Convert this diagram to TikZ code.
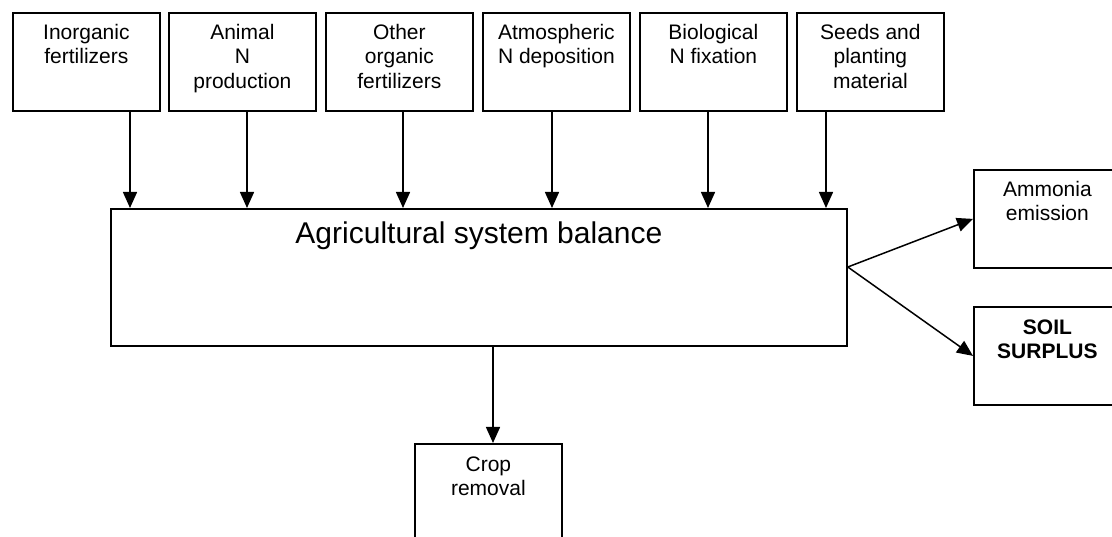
\documentclass[tikz,border=0pt]{standalone}
\usepackage{fontspec}
\setmainfont{Liberation Sans}
\usetikzlibrary{arrows.meta}
\begin{document}
\begin{tikzpicture}[x=1pt,y=-1pt,
  box/.style={draw, line width=1.8pt, minimum width=147pt, minimum height=98pt, anchor=north west, inner sep=0pt},
  lbl/.style={anchor=north, align=center, inner sep=0pt, font=\fontsize{21}{24.5}\selectfont},
  big/.style={anchor=north, align=center, inner sep=0pt, font=\fontsize{30}{36}\selectfont},
  arr/.style={line width=1.5pt, -{Triangle[length=16pt,width=14pt]}}]
\useasboundingbox (0,0) rectangle (1112,537);
\clip (0,0) rectangle (1112,537);

% top boxes
\node[box] (inorg) at (12,12) {};
\node[lbl] (tinorg) at ([yshift=-9.85pt]inorg.north) {\strut Inorganic\\fertilizers};
\node[box] (anim) at (168,12) {};
\node[lbl] (tanim) at ([yshift=-9.85pt]anim.north) {\strut Animal\\N\\production};
\node[box] (other) at (325,12) {};
\node[lbl] (tother) at ([yshift=-9.85pt]other.north) {\strut Other\\organic\\fertilizers};
\node[box] (atmo) at (482,12) {};
\node[lbl] (tatmo) at ([yshift=-9.85pt]atmo.north) {\strut Atmospheric\\N deposition};
\node[box] (bio) at (639,12) {};
\node[lbl] (tbio) at ([yshift=-9.85pt]bio.north) {\strut Biological\\N fixation};
\node[box] (seed) at (796,12) {};
\node[lbl] (tseed) at ([yshift=-9.85pt]seed.north) {\strut Seeds and\\planting\\material};

% main box
\node[box, minimum width=736pt, minimum height=137pt] (main) at (110,208) {};
\node[big] (tmain) at ([yshift=-9.8pt]main.north) {\strut Agricultural system balance};

% right boxes
\node[box] (ammo) at (973,169) {};
\node[lbl] (tammo) at ([yshift=-9.85pt]ammo.north) {\strut Ammonia\\emission};
\node[box] (soil) at (973,306) {};
\node[lbl, font=\fontsize{21}{24.5}\selectfont\bfseries] (tsoil) at ([yshift=-10.85pt]soil.north) {\strut SOIL\\SURPLUS};

% bottom box
\node[box] (crop) at (414,443) {};
\node[lbl] (tcrop) at ([yshift=-10.85pt]crop.north) {\strut Crop\\removal};

% input arrows
\draw[arr] (130,0 |- inorg.south) -- (130,0 |- main.north);
\draw[arr] (247,0 |- anim.south) -- (247,0 |- main.north);
\draw[arr] (403,0 |- other.south) -- (403,0 |- main.north);
\draw[arr] (552,0 |- atmo.south) -- (552,0 |- main.north);
\draw[arr] (708,0 |- bio.south) -- (708,0 |- main.north);
\draw[arr] (826,0 |- seed.south) -- (826,0 |- main.north);

% outputs
\coordinate (out) at (main.east |- 0,267);
\draw[arr] (out) -- (ammo.west);
\draw[arr] (out) -- (soil.west);
\draw[arr] (493,0 |- main.south) -- (493,0 |- crop.north);
\end{tikzpicture}
\end{document}
